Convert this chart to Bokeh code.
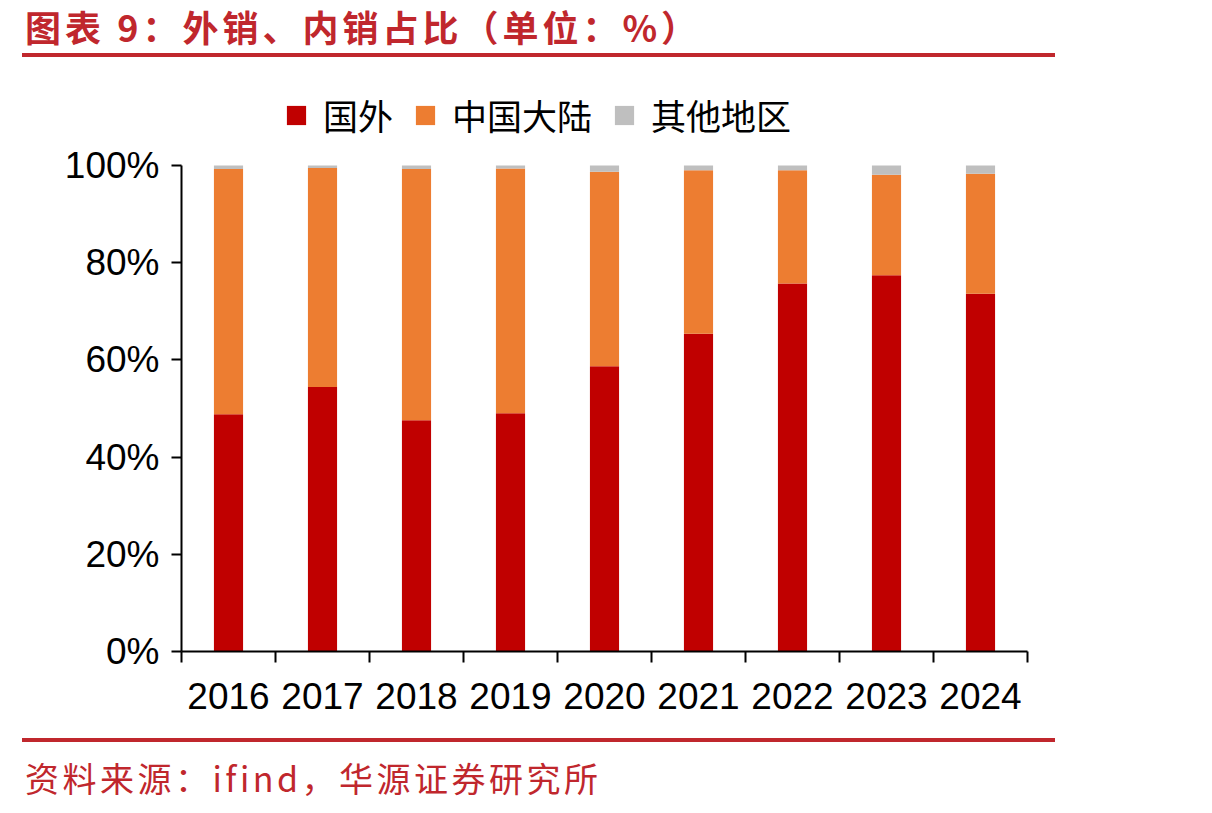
from bokeh.plotting import figure
from bokeh.layouts import column
from bokeh.models import (ColumnDataSource, FixedTicker, NumeralTickFormatter,
                          Legend, LegendItem, Range1d, Div)
from bokeh.embed import file_html
from bokeh.resources import INLINE

# Share of sales by region, per year (%)
years = ["2016", "2017", "2018", "2019", "2020", "2021", "2022", "2023", "2024"]
overseas = [48.8, 54.4, 47.6, 49.0, 58.7, 65.4, 75.7, 77.4, 73.6]
mainland = [50.5, 45.1, 51.7, 50.4, 40.0, 33.6, 23.3, 20.7, 24.7]
other = [0.7, 0.5, 0.7, 0.6, 1.3, 1.0, 1.0, 1.9, 1.7]

series_names = ["国外", "中国大陆", "其他地区"]
series_keys = ["overseas", "mainland", "other"]
colors = ["#C00000", "#ED7D31", "#BFBFBF"]

title_text = "图表 9：外销、内销占比（单位：%）"
source_text = "资料来源：ifind，华源证券研究所"
accent = "#C0272D"

W = 1212
HEAD_H, MAIN_H, FOOT_H = 62, 668, 83
PLOT_TOP_PX, AXIS_Y_PX = 165, 651          # where 100% and 0% sit on the page

header = Div(width=W, height=HEAD_H, margin=0, text=(
    f'<div style="position:relative;width:{W}px;height:{HEAD_H}px;">'
    f'<div style="position:absolute;left:25px;top:1px;font-family:\'Noto Sans CJK SC\';'
    f'font-weight:bold;font-size:36px;line-height:50px;color:{accent};white-space:nowrap;'
    f'letter-spacing:4px;">{title_text}</div>'
    f'<div style="position:absolute;left:22px;top:53px;width:1033px;height:4px;'
    f'background:{accent};"></div></div>'))

footer = Div(width=W, height=FOOT_H, margin=0, text=(
    f'<div style="position:relative;width:{W}px;height:{FOOT_H}px;">'
    f'<div style="position:absolute;left:22px;top:8px;width:1033px;height:4px;'
    f'background:{accent};"></div>'
    f'<div style="position:absolute;left:25px;top:24px;font-family:\'Noto Sans CJK SC\';'
    f'font-size:34px;line-height:48px;color:{accent};white-space:nowrap;letter-spacing:3.5px;">'
    f'{source_text}</div></div>'))

data = dict(
    x=[i + 0.5 for i in range(len(years))],
    overseas=[v / 100 for v in overseas],
    mainland=[v / 100 for v in mainland],
    other=[v / 100 for v in other],
)
src = ColumnDataSource(data)

# frame runs from the top of this figure down to the x axis; the extra
# headroom above 100% holds the legend
frame_h = AXIS_Y_PX - HEAD_H
px_per_unit = AXIS_Y_PX - PLOT_TOP_PX
p = figure(width=W, height=MAIN_H, output_backend="svg", toolbar_location=None,
           x_range=Range1d(0, len(years)), y_range=Range1d(0, frame_h / px_per_unit),
           min_border_left=181, min_border_right=W - 1027,
           min_border_top=0, min_border_bottom=HEAD_H + MAIN_H - AXIS_Y_PX,
           margin=0)
p.outline_line_color = None
p.grid.visible = False

renderers = p.vbar_stack(series_keys, x="x", width=0.31, source=src,
                         color=colors, line_color=None)

# y axis: percentage ticks, line stops at 100%
ya = p.yaxis[0]
ya.bounds = (0, 1)
ya.ticker = FixedTicker(ticks=[0, 0.2, 0.4, 0.6, 0.8, 1.0])
ya.formatter = NumeralTickFormatter(format="0%")
ya.axis_line_width = 2
ya.axis_line_color = "black"
ya.major_tick_line_width = 2
ya.major_tick_out = 10
ya.major_tick_in = 0
ya.minor_tick_line_color = None
ya.major_label_text_font = "Liberation Sans"
ya.major_label_text_font_size = "37px"
ya.major_label_text_color = "black"
ya.major_label_standoff = 12

# x axis: labels at bar centres, tick marks between categories
xa = p.xaxis[0]
xa.ticker = FixedTicker(ticks=data["x"], minor_ticks=list(range(len(years) + 1)))
xa.major_label_overrides = {x: y for x, y in zip(data["x"], years)}
xa.axis_line_width = 2
xa.axis_line_color = "black"
xa.major_tick_line_color = None
xa.minor_tick_line_color = "black"
xa.minor_tick_line_width = 2
xa.minor_tick_out = 11
xa.minor_tick_in = 0
xa.major_label_text_font = "Liberation Sans"
xa.major_label_text_font_size = "37px"
xa.major_label_text_color = "black"
xa.major_label_standoff = 20

legend = Legend(
    items=[LegendItem(label=n, renderers=[r]) for n, r in zip(series_names, renderers)],
    orientation="horizontal", location=(103, 511),
    label_text_font="Noto Sans CJK SC", label_text_font_size="35px",
    label_text_color="black", glyph_width=24, glyph_height=24,
    label_standoff=15, spacing=20, padding=0, margin=0,
    border_line_color=None, background_fill_alpha=0,
)
p.add_layout(legend, "center")

layout = column(header, p, footer, spacing=0, margin=0)
open("out.html", "w").write(file_html(layout, INLINE))
